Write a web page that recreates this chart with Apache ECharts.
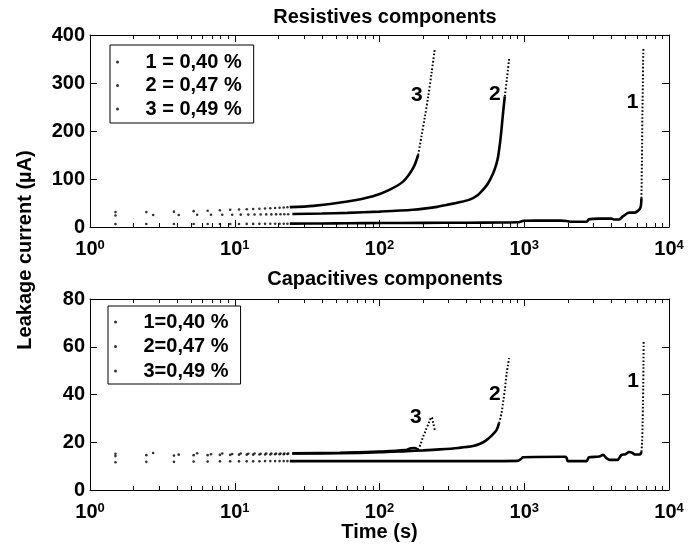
<!DOCTYPE html>
<html><head><meta charset="utf-8">
<script src="https://cdn.jsdelivr.net/npm/echarts@6/dist/echarts.min.js"></script>
<style>html,body{margin:0;padding:0;background:#fff}#c{width:696px;height:544px}</style>
</head><body><div id="c"></div>
<script>
// ---------- DATA ----------
const topTitle = 'Resistives components';
const botTitle = 'Capacitives components';
const yName = 'Leakage current (µA)';
const xName = 'Time (s)';
const topNames = ['1 = 0,40 %', '2 = 0,47 %', '3 = 0,49 %'];
const botNames = ['1=0,40 %', '2=0,47 %', '3=0,49 %'];
const xMin = 1, xMax = 10000;
const decadeTickValues = [1, 10, 100, 1000, 10000];
const minorTickValues = [2,3,4,5,6,7,8,9,20,30,40,50,60,70,80,90,200,300,400,500,600,700,800,900,2000,3000,4000,5000,6000,7000,8000,9000];
const topYMax = 400, topYStep = 100;
const botYMax = 80, botYStep = 20;

// early sample times (sparse dots)
const tA = [1.5, 2.45, 3.8, 5.2, 6.5, 7.9, 9.3, 10.7, 12.1, 13.4, 14.8, 16.2, 17.6, 19.0, 20.4, 21.8, 23.1];
const tB = [1.5, 2.73, 4.1, 5.5, 6.85, 8.2, 9.6, 11.0, 12.4, 13.7, 15.1, 16.5, 17.9, 19.3, 20.7, 22.0, 23.4];

// Resistive, curve 1
const r1SparseV = [6.0, 6.1, 6.2, 6.2, 6.3, 6.3, 6.4, 6.4, 6.5, 6.5, 6.6, 6.6, 6.7, 6.7, 6.8, 6.8, 6.9];
const r1DenseT = [24, 40, 60, 100, 200, 400, 700, 900, 960, 1000, 1300, 1800, 2000, 2100, 2700, 2800, 3300, 4000, 4200, 4500, 4800, 5300, 5800, 6000, 6300, 6400, 6450];
const r1DenseV = [7, 7.3, 7.8, 8.2, 8.6, 9.0, 9.4, 9.8, 12, 13, 13.2, 13.3, 12, 11, 11, 16, 17.5, 17.5, 15.5, 15.5, 22, 30, 30, 32, 38, 45, 60];
const r1TailT = [6450, 6500, 6550, 6600, 6620, 6640, 6660];
const r1TailV = [60, 133, 237, 300, 342, 360, 375];
// Resistive, curve 2
const r2SparseV = [24, 25, 25, 25.5, 25.5, 25.5, 25.6, 25.7, 25.8, 26, 26, 26.2, 26.3, 26.4, 26.5, 26.6, 26.7];
const r2DenseT = [25, 40, 60, 100, 170, 250, 290, 350, 420, 470, 520, 560, 610, 640, 660, 680, 696, 715, 734];
const r2DenseV = [27, 28, 29.5, 32, 36, 42, 46, 51, 57, 65, 78, 90, 112, 130, 147, 175, 203, 240, 272];
const r2TailT = [734, 760, 786];
const r2TailV = [272, 310, 350];
// Resistive, curve 3
const r3SparseV = [31, 31, 32, 33, 34, 35, 36, 36.5, 37, 37.5, 38, 38.5, 39, 39.5, 40, 40.5, 41];
const r3DenseT = [24, 35, 60, 90, 118, 146, 171, 185];
const r3DenseV = [41.5, 44, 53, 64, 78, 95, 123, 150];
const r3TailT = [185, 195, 206, 217, 229, 241];
const r3TailV = [150, 189, 230, 272, 321, 371];

// Capacitive, curve 1
const c1SparseV = [11.6, 11.8, 11.8, 11.9, 11.9, 12, 12, 12, 12, 12, 12, 12.1, 12.1, 12.1, 12.1, 12.1, 12.1];
const c1DenseT = [24, 100, 500, 900, 950, 980, 1900, 1960, 2000, 2700, 2750, 2800, 3300, 3500, 3700, 3900, 4400, 4600, 4700, 5000, 5300, 5600, 5800, 6300, 6450];
const c1DenseV = [12.1, 12.1, 12.1, 12.2, 13, 13.7, 13.9, 13.5, 12.1, 12.1, 13, 13.7, 14, 14.7, 13.3, 12.6, 12.6, 14, 14.7, 15, 15.9, 15.5, 14.9, 14.9, 16];
const c1TailT = [6450, 6520, 6570, 6610, 6640, 6660, 6680];
const c1TailV = [16, 20, 28, 36, 44, 52, 62];
// Capacitive, curve 2
const c2SparseV = [14.2, 15.5, 14.8, 15.4, 15.0, 15.3, 15.1, 15.3, 15.2, 15.3, 15.2, 15.3, 15.3, 15.3, 15.3, 15.3, 15.3];
const c2DenseT = [25, 53, 100, 154, 200, 261, 350, 443, 500, 548, 600, 643, 670];
const c2DenseV = [15.3, 15.4, 15.8, 16.3, 16.6, 17, 17.6, 18.4, 19.5, 20.9, 23, 25.1, 28];
const c2TailT = [670, 696, 715, 734, 756, 770, 785];
const c2TailV = [28, 32.1, 37, 41.9, 48.9, 52, 55.2];
// Capacitive, curve 3
const c3SparseV = [15.2, 14.6, 14.4, 14.6, 14.6, 14.7, 14.7, 14.8, 14.8, 14.8, 14.9, 14.9, 14.9, 15.0, 15.0, 15.0, 15.1];
const c3DenseT = [25, 53, 100, 150, 165, 175, 185];
const c3DenseV = [15.4, 15.6, 16.1, 16.7, 17.5, 17.6, 16.8];
const c3TailT = [185, 193, 200, 206, 211, 217, 223, 229, 235, 241];
const c3TailV = [16.8, 19.5, 22.3, 24, 25.8, 27.5, 29.3, 30.5, 28, 25];

// curve number annotations [label, t, value]
const topMarks = [['1', 5600, 259], ['2', 626, 276], ['3', 181, 274]];
const botMarks = [['1', 5650, 45.4], ['2', 626, 40.2], ['3', 178, 30.3]];

// ---------- CHART ----------
const FONT = '"Liberation Sans", Arial, Helvetica, sans-serif';
const pair = (ts, vs) => ts.map((t, i) => [t, vs[i]]);
const decadePos = decadeTickValues.map(v => Math.log10(v));
const minorPos = minorTickValues.map(v => Math.log10(v));
const logMin = Math.log10(xMin), logMax = Math.log10(xMax);
const tickColor = '#000';
const frameLine = { show: true, onZero: false, lineStyle: { color: '#000', width: 1 } };

function xAxes(gi, showName) {
  // main (data) axis: log scale, bottom
  const bottom = {
    gridIndex: gi, type: 'log', logBase: 10, min: xMin, max: xMax, position: 'bottom',
    splitLine: { show: false },
    axisLine: frameLine,
    axisTick: { show: true, inside: true, length: 7, lineStyle: { color: tickColor, width: 1 } },
    minorTick: { show: true, splitNumber: 9, length: 4, lineStyle: { color: tickColor, width: 1 } },
    axisLabel: {
      show: true, margin: 12,
      formatter: v => '{b|10}{s|' + Math.round(Math.log10(v)) + '}',
      rich: {
        b: { fontSize: 20, fontWeight: 'bold', color: '#000', fontFamily: FONT, verticalAlign: 'bottom', padding: [7, 0, 0, 0], lineHeight: 20 },
        s: { fontSize: 13, fontWeight: 'bold', color: '#000', fontFamily: FONT, verticalAlign: 'top', lineHeight: 14 }
      }
    }
  };
  if (showName) {
    Object.assign(bottom, {
      name: xName, nameLocation: 'middle', nameGap: 32,
      nameTextStyle: { fontSize: 20, fontWeight: 'bold', color: '#000', fontFamily: FONT }
    });
  }
  // mirrored ticks on the top edge of the box, in log10 units
  const topMajor = {
    gridIndex: gi, type: 'value', min: logMin, max: logMax, position: 'top',
    splitLine: { show: false }, axisLabel: { show: false },
    axisLine: frameLine,
    axisTick: { show: true, inside: true, length: 7, customValues: decadePos, lineStyle: { color: tickColor, width: 1 } }
  };
  const topMinor = {
    gridIndex: gi, type: 'value', min: logMin, max: logMax, position: 'top',
    splitLine: { show: false }, axisLabel: { show: false }, axisLine: { show: false, onZero: false },
    axisTick: { show: true, inside: true, length: 4, customValues: minorPos, lineStyle: { color: tickColor, width: 1 } }
  };
  return [bottom, topMajor, topMinor];
}
function yAxes(gi, max, step) {
  const base = {
    gridIndex: gi, type: 'value', min: 0, max: max, interval: step,
    splitLine: { show: false },
    axisLine: frameLine,
    axisTick: { show: true, inside: true, length: 7, lineStyle: { color: tickColor, width: 1 } }
  };
  return [
    Object.assign({}, base, { position: 'left', axisLabel: { show: true, margin: 5, fontSize: 20, fontWeight: 'bold', color: '#000', fontFamily: FONT } }),
    Object.assign({}, base, { position: 'right', axisLabel: { show: false } })
  ];
}

const series = [];
function addCurve(name, xIdx, yIdx, sparseT, sparseV, denseT, denseV, tailT, tailV, mark) {
  series.push({ name, type: 'scatter', xAxisIndex: xIdx, yAxisIndex: yIdx, symbol: 'circle', symbolSize: 2.6,
    itemStyle: { color: '#000' }, data: pair(sparseT, sparseV), silent: true });
  series.push({ name, type: 'line', xAxisIndex: xIdx, yAxisIndex: yIdx, showSymbol: false, smooth: 0.3,
    lineStyle: { color: '#000', width: 2.6 }, data: pair(denseT, denseV), silent: true });
  series.push({ name, type: 'line', xAxisIndex: xIdx, yAxisIndex: yIdx, showSymbol: false, smooth: 0.3,
    lineStyle: { color: '#000', width: 2, type: [1.6, 2] }, data: pair(tailT, tailV), silent: true,
    markPoint: {
      symbol: 'circle', symbolSize: 1, itemStyle: { color: 'rgba(0,0,0,0)' },
      label: { show: true, position: 'inside', color: '#000', fontSize: 21, fontWeight: 'bold', fontFamily: FONT, formatter: mark[0] },
      data: [{ coord: [mark[1], mark[2]] }]
    } });
}
addCurve(topNames[0], 0, 0, tA, r1SparseV, r1DenseT, r1DenseV, r1TailT, r1TailV, topMarks[0]);
addCurve(topNames[1], 0, 0, tB, r2SparseV, r2DenseT, r2DenseV, r2TailT, r2TailV, topMarks[1]);
addCurve(topNames[2], 0, 0, tA, r3SparseV, r3DenseT, r3DenseV, r3TailT, r3TailV, topMarks[2]);
addCurve(botNames[0], 3, 2, tA, c1SparseV, c1DenseT, c1DenseV, c1TailT, c1TailV, botMarks[0]);
addCurve(botNames[1], 3, 2, tB, c2SparseV, c2DenseT, c2DenseV, c2TailT, c2TailV, botMarks[1]);
addCurve(botNames[2], 3, 2, tA, c3SparseV, c3DenseT, c3DenseV, c3TailT, c3TailV, botMarks[2]);

const legendText = { fontSize: 20, fontWeight: 'bold', color: '#000', fontFamily: FONT, lineHeight: 20 };
const option = {
  animation: false,
  backgroundColor: '#fff',
  title: [
    { text: topTitle, left: 380, textAlign: 'center', top: 2, textStyle: { fontSize: 20, fontWeight: 'bold', color: '#000', fontFamily: FONT } },
    { text: botTitle, left: 380, textAlign: 'center', top: 264, textStyle: { fontSize: 20, fontWeight: 'bold', color: '#000', fontFamily: FONT } }
  ],
  grid: [
    { left: 90, right: 27, top: 35, height: 192 },
    { left: 90, right: 27, top: 299, height: 191 }
  ],
  xAxis: xAxes(0, false).concat(xAxes(1, true)),
  yAxis: yAxes(0, topYMax, topYStep).concat(yAxes(1, botYMax, botYStep)),
  legend: [
    { data: topNames, orient: 'vertical', left: 110, top: 45, icon: 'circle', itemWidth: 46, itemHeight: 3,
      itemGap: 3.5, padding: [7, 12, 4, 6], borderColor: '#000', borderWidth: 1, backgroundColor: '#fff',
      selectedMode: false, textStyle: legendText, itemStyle: { color: '#000' } },
    { data: botNames, orient: 'vertical', left: 108, top: 306, icon: 'circle', itemWidth: 46, itemHeight: 3,
      itemGap: 4.5, padding: [6, 12, 3, 6], borderColor: '#000', borderWidth: 1, backgroundColor: '#fff',
      selectedMode: false, textStyle: legendText, itemStyle: { color: '#000' } }
  ],
  graphic: [
    { type: 'text', x: 25, y: 250, rotation: Math.PI / 2,
      style: { text: yName, font: 'bold 20px ' + FONT, fill: '#000', align: 'center', verticalAlign: 'middle' } }
  ],
  series: series
};
const chart = echarts.init(document.getElementById('c'), null, { renderer: 'canvas' });
chart.setOption(option);
</script></body></html>
